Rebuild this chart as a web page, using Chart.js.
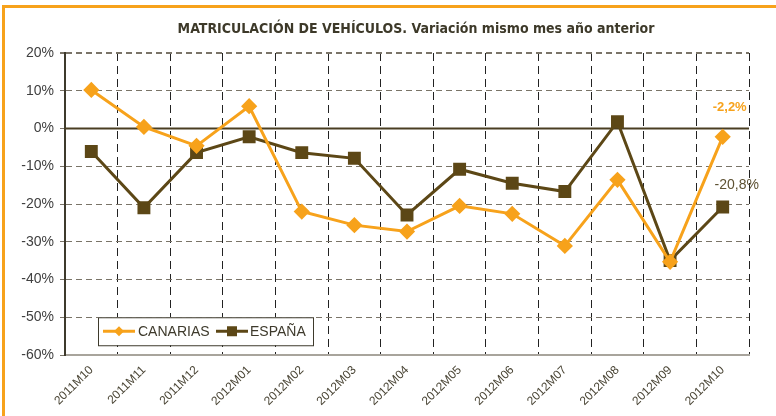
<!DOCTYPE html>
<html><head><meta charset="utf-8">
<script src="https://cdn.jsdelivr.net/npm/chart.js@4/dist/chart.umd.min.js"></script>
<style>
html,body{margin:0;padding:0;background:#fff;}
#wrap{position:relative;width:776px;height:416px;overflow:hidden;background:#fff;}
#bt{position:absolute;left:2px;top:5px;width:774px;height:3px;background:#F7A21B;}
#bl{position:absolute;left:2px;top:5px;width:3px;height:411px;background:#F7A21B;}
canvas{position:absolute;left:0;top:0;}
</style></head><body>
<div id="wrap"><canvas id="c" width="776" height="416"></canvas><div id="bt"></div><div id="bl"></div></div>
<script>
const categories = ["2011M10","2011M11","2011M12","2012M01","2012M02","2012M03","2012M04","2012M05","2012M06","2012M07","2012M08","2012M09","2012M10"];
const canarias = [10.2, 0.4, -4.6, 5.9, -22.0, -25.6, -27.3, -20.5, -22.6, -31.1, -13.6, -35.3, -2.2];
const espana = [-6.1, -21.0, -6.4, -2.2, -6.4, -7.9, -22.9, -10.8, -14.5, -16.7, 1.8, -35.0, -20.8];
const yTicks = {min: -60, max: 20, step: 10};
const titleText = "MATRICULACIÓN DE VEHÍCULOS. Variación mismo mes año anterior";
const seriesNames = ["CANARIAS", "ESPAÑA"];

const ORANGE = '#F7A21B';
const BROWN = '#5C4716';

const fmt = v => (v.toFixed(1).replace('.', ',')) + '%';

const extras = {
  id: 'extras',
  beforeDatasetsDraw(chart) {
    const ctx = chart.ctx, a = chart.chartArea, y = chart.scales.y;
    const y0 = y.getPixelForValue(0);
    ctx.save();
    ctx.strokeStyle = '#4A3E22';
    ctx.lineWidth = 2;
    ctx.beginPath(); ctx.moveTo(a.left, y0); ctx.lineTo(a.right, y0); ctx.stroke();
    ctx.restore();
  },
  afterDraw(chart) {
    const ctx = chart.ctx, a = chart.chartArea, x = chart.scales.x, y = chart.scales.y;
    ctx.save();
    // title
    ctx.fillStyle = '#3D3929';
    ctx.font = 'bold 14px "DejaVu Sans Condensed", "DejaVu Sans", sans-serif';
    ctx.textAlign = 'center'; ctx.textBaseline = 'middle';
    ctx.fillText(titleText, 416, 29);
    // last-point labels
    const n = categories.length - 1;
    const px = x.getPixelForValue(n);
    ctx.font = 'bold 13px "Liberation Sans", Arial, sans-serif';
    ctx.fillStyle = ORANGE;
    ctx.fillText(fmt(canarias[n]), px + 7, y.getPixelForValue(canarias[n]) - 29);
    ctx.font = '14px "Liberation Sans", Arial, sans-serif';
    ctx.fillStyle = '#5E5233';
    ctx.fillText(fmt(espana[n]), px + 14, y.getPixelForValue(espana[n]) - 22);
    // legend
    const lx = a.left + 33, ly = y.getPixelForValue(-50);
    const lw = 215, lh = 28;
    ctx.fillStyle = '#fff';
    ctx.fillRect(lx, ly, lw, lh);
    ctx.strokeStyle = '#3E3A2C'; ctx.lineWidth = 1;
    ctx.strokeRect(lx + 0.5, ly + 0.5, lw, lh);
    const cy = ly + lh / 2;
    ctx.font = '14px "Liberation Sans", Arial, sans-serif';
    ctx.textAlign = 'left';
    // canarias
    ctx.strokeStyle = ORANGE; ctx.lineWidth = 3;
    ctx.beginPath(); ctx.moveTo(lx + 5, cy); ctx.lineTo(lx + 37, cy); ctx.stroke();
    ctx.fillStyle = ORANGE;
    ctx.beginPath(); ctx.moveTo(lx + 21, cy - 5); ctx.lineTo(lx + 26, cy); ctx.lineTo(lx + 21, cy + 5); ctx.lineTo(lx + 16, cy); ctx.closePath(); ctx.fill();
    ctx.fillStyle = '#3E3A2C';
    ctx.fillText(seriesNames[0], lx + 40, cy + 1);
    // espana
    const ex = lx + 118;
    ctx.strokeStyle = BROWN; ctx.lineWidth = 3;
    ctx.beginPath(); ctx.moveTo(ex, cy); ctx.lineTo(ex + 32, cy); ctx.stroke();
    ctx.fillStyle = BROWN;
    ctx.fillRect(ex + 11, cy - 5, 10, 10);
    ctx.fillStyle = '#3E3A2C';
    ctx.fillText(seriesNames[1], ex + 34, cy + 1);
    ctx.restore();
  }
};

new Chart(document.getElementById('c'), {
  type: 'line',
  data: {
    labels: categories,
    datasets: [
      {label: seriesNames[0], data: canarias, borderColor: ORANGE, backgroundColor: ORANGE, borderWidth: 3,
       pointStyle: 'rectRot', pointRadius: 6, pointHoverRadius: 6, tension: 0},
      {label: seriesNames[1], data: espana, borderColor: BROWN, backgroundColor: BROWN, borderWidth: 3,
       pointStyle: 'rect', pointRadius: 7, pointHoverRadius: 7, tension: 0}
    ]
  },
  options: {
    responsive: false, animation: false,
    layout: {padding: {top: 53, left: 0, right: 27, bottom: 0}},
    plugins: {legend: {display: false}, title: {display: false}, tooltip: {enabled: false}},
    scales: {
      x: {
        offset: true,
        grid: {offset: true, drawTicks: false,
               lineWidth: c => (c.index === categories.length ? 2 : 1),
               color: c => (c.index === categories.length ? '#8A8478' : '#222')},
        border: {display: true, color: '#A8A49C', width: 2, dash: [8, 5]},
        ticks: {maxRotation: 45, minRotation: 45, padding: 8, color: '#4A4535',
                font: {family: '"Liberation Sans", Arial, sans-serif', size: 12}},
        afterFit: s => { s.height = 61; }
      },
      y: {
        min: yTicks.min, max: yTicks.max,
        grid: {color: '#7A7468', lineWidth: c => (c.index === 8 ? 2 : 1), tickLength: 5, drawTicks: true},
        border: {display: true, color: '#3E3A2C', width: 2, dash: [6, 4]},
        ticks: {stepSize: yTicks.step, padding: 6, color: '#404040',
                font: {family: '"Liberation Sans", Arial, sans-serif', size: 14},
                callback: v => v + '%'},
        afterFit: s => { s.width = 65; }
      }
    }
  },
  plugins: [extras]
});
</script>
</body></html>
